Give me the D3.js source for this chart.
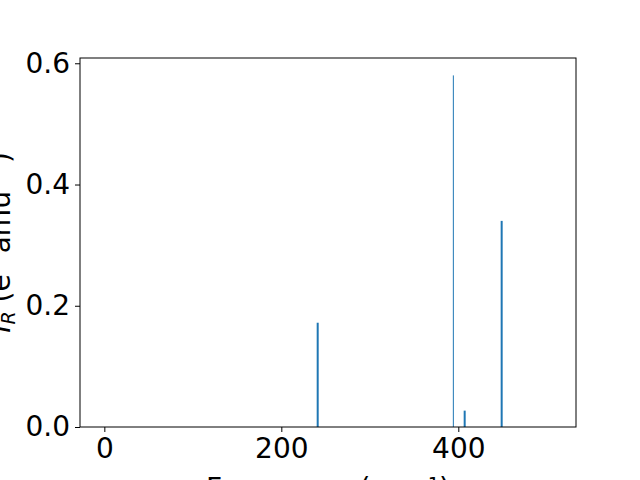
<!DOCTYPE html>
<html><head><meta charset="utf-8">
<script src="https://cdn.jsdelivr.net/npm/d3@7"></script>
<style>body{margin:0;background:#fff}svg{display:block}text{font-family:"DejaVu Sans",sans-serif}</style>
</head><body><svg id="c" width="640" height="480"></svg>
<script>
const freqs = [241.1, 407.2, 449.0];
const intensities = [0.172, 0.027, 0.340];
const lineFreq = [394.4];
const lineIntensity = [0.580];
const xTicks = [0, 200, 400];
const yTicks = [0.0, 0.2, 0.4, 0.6];
const xLabel = "Frequency (cm\u207B\u00B9)";

const svg = d3.select("#c");
const m = {l:80, r:576, t:58, b:427};
const x = d3.scaleLinear().domain([-27.5, 533]).range([m.l, m.r]);
const y = d3.scaleLinear().domain([0, 0.6087]).range([m.b, m.t]);
const color = "#1f77b4";
const fs = 28;

svg.selectAll("rect.bar").data(freqs).enter().append("rect")
  .attr("class","bar")
  .attr("x", d => x(d) - 1).attr("width", 2)
  .attr("y", (d,i) => y(intensities[i]))
  .attr("height", (d,i) => y(0) - y(intensities[i]))
  .attr("fill", color);

svg.selectAll("line.peak").data(lineFreq).enter().append("line")
  .attr("class","peak")
  .attr("x1", d => x(d)).attr("x2", d => x(d))
  .attr("y1", y(0)).attr("y2", (d,i) => y(lineIntensity[i]))
  .attr("stroke", color).attr("stroke-width", 1);

svg.append("rect").attr("x", m.l).attr("y", m.t).attr("width", m.r-m.l).attr("height", m.b-m.t)
  .attr("fill","none").attr("stroke","#000").attr("stroke-width",1);

const xa = svg.append("g").attr("transform",`translate(0,${m.b})`)
  .call(d3.axisBottom(x).tickValues(xTicks).tickFormat(d3.format("d")).tickSize(5).tickPadding(6).tickSizeOuter(0));
xa.select(".domain").remove();
xa.selectAll("text").attr("font-size", fs).attr("font-family","DejaVu Sans").attr("fill","#000");

const ya = svg.append("g").attr("transform",`translate(${m.l},0)`)
  .call(d3.axisLeft(y).tickValues(yTicks).tickFormat(d3.format(".1f")).tickSize(5).tickPadding(5).tickSizeOuter(0));
ya.select(".domain").remove();
ya.selectAll("text").attr("font-size", fs).attr("font-family","DejaVu Sans").attr("fill","#000");

svg.append("text").attr("x", (m.l+m.r)/2).attr("y", 498).attr("text-anchor","middle")
  .attr("font-size", fs).text(xLabel);

const yl = svg.append("text").attr("transform",`translate(9.5,${(m.t+m.b)/2}) rotate(-90)`)
  .attr("text-anchor","middle").attr("font-size", fs);
yl.append("tspan").attr("font-style","italic").text("I");
yl.append("tspan").attr("font-style","italic").attr("font-size",19).attr("dy",5).text("R");
yl.append("tspan").attr("dy",-5).text(" (e");
yl.append("tspan").attr("font-size",19).attr("dy",-11).text("2");
yl.append("tspan").attr("dy",11).text(" amu");
yl.append("tspan").attr("font-size",19).attr("dy",-11).text("\u22121");
yl.append("tspan").attr("dy",11).text(")");
</script></body></html>
